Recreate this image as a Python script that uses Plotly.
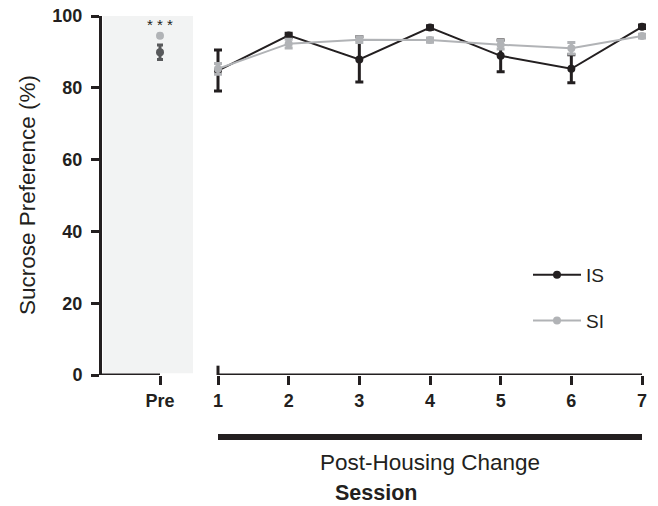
import plotly.graph_objects as go

W, H = 658, 506
FONT = "Arial, Liberation Sans, sans-serif"
INK = "#231f20"
GRAY = "#b1b3b6"
DARKGRAY = "#58595b"

# ---- data ----
sessions = [1, 2, 3, 4, 5, 6, 7]
session_labels = ["1", "2", "3", "4", "5", "6", "7"]
is_mean = [84.8, 94.6, 87.9, 96.8, 88.9, 85.3, 97.0]
is_sem = [5.7, 0.6, 6.3, 0.5, 4.4, 3.9, 0.5]
si_mean = [85.3, 92.3, 93.4, 93.3, 92.0, 91.0, 94.4]
si_sem = [1.5, 1.2, 0.8, 0.6, 1.2, 1.6, 0.5]

pre_label = ["Pre"]
pre_is_mean = [89.9]
pre_is_sem = [2.0]
pre_si_mean = [94.5]
pre_si_sem = [0.4]
pre_stars = "* * *"

y_ticks = [0, 20, 40, 60, 80, 100]


def px(x):
    return x / W


def py(y):
    return 1 - y / H


fig = go.Figure()

# Pre panel
fig.add_trace(go.Scatter(
    x=[0], y=pre_is_mean, mode="markers", xaxis="x", yaxis="y",
    marker=dict(color=DARKGRAY, size=8),
    error_y=dict(type="data", array=pre_is_sem, color=DARKGRAY, thickness=3, width=3),
    showlegend=False, cliponaxis=False))
fig.add_trace(go.Scatter(
    x=[0], y=pre_si_mean, mode="markers", xaxis="x", yaxis="y",
    marker=dict(color=GRAY, size=8),
    error_y=dict(type="data", array=pre_si_sem, color=GRAY, thickness=3, width=3),
    showlegend=False, cliponaxis=False))

# Session panel
fig.add_trace(go.Scatter(
    x=sessions, y=is_mean, mode="lines+markers", name="IS", xaxis="x2", yaxis="y",
    line=dict(color=INK, width=2), marker=dict(color=INK, size=8),
    error_y=dict(type="data", array=is_sem, color=INK, thickness=3, width=4),
    legendgroup="IS", cliponaxis=False))
fig.add_trace(go.Scatter(
    x=sessions, y=si_mean, mode="lines+markers", name="SI", xaxis="x2", yaxis="y",
    line=dict(color=GRAY, width=2), marker=dict(color=GRAY, size=8),
    error_y=dict(type="data", array=si_sem, color=GRAY, thickness=3, width=4),
    legendgroup="SI", cliponaxis=False))

axis_common = dict(showgrid=False, zeroline=False, linecolor=INK,
                   linewidth=3, ticks="outside", tickcolor=INK, tickwidth=3, ticklen=9,
                   automargin=False,
                   tickfont=dict(family=FONT, size=18, color=INK, weight="bold"))

PAD = 0.1  # small padding so error-bar caps at the edges are not clipped

fig.update_layout(
    template="none",
    width=W, height=H,
    margin=dict(l=0, r=0, t=0, b=0, pad=0),
    paper_bgcolor="white", plot_bgcolor="rgba(0,0,0,0)",
    font=dict(family=FONT, color=INK),
    xaxis=dict(domain=[px(102), px(160 + 58 * PAD)], range=[-1, PAD], tickvals=[0],
               ticktext=pre_label, anchor="y", showline=False, **axis_common),
    xaxis2=dict(domain=[px(218 - 70.67 * PAD), px(642 + 70.67 * PAD)],
                range=[1 - PAD, 7 + PAD], tickvals=sessions,
                ticktext=session_labels, anchor="y", showline=False, **axis_common),
    yaxis=dict(domain=[py(375), py(16)], range=[0, 100], tickvals=y_ticks,
               anchor="x", ticklabelstandoff=5, showline=True,
               **{**axis_common, "ticklen": 8}),
    legend=dict(x=px(528), y=py(256), xanchor="left", yanchor="top",
                font=dict(family=FONT, size=19, color=INK), itemwidth=48,
                tracegroupgap=18, bgcolor="rgba(0,0,0,0)"),
    shapes=[
        # shaded pre background
        dict(type="rect", xref="paper", yref="y", x0=px(103), x1=px(193), y0=0.5, y1=100,
             fillcolor="#f2f3f3", line=dict(width=0), layer="below"),
        # pre x-axis line (ends at the Pre tick)
        dict(type="line", xref="x", yref="y", x0=-1, x1=0, y0=0, y1=0,
             line=dict(color=INK, width=3)),
        # session x-axis line
        dict(type="line", xref="x2", yref="y", x0=1, x1=7, y0=0, y1=0,
             line=dict(color=INK, width=3)),
        # upward tick at session 1
        dict(type="line", xref="x2", yref="y", x0=1, x1=1, y0=0, y1=2.6,
             line=dict(color=INK, width=3)),
        # post-housing bar
        dict(type="line", xref="x2", yref="paper", x0=1, x1=7, y0=py(437), y1=py(437),
             line=dict(color=INK, width=6)),
    ],
    annotations=[
        dict(text=pre_stars, x=0, y=97.5, xref="x", yref="y", showarrow=False,
             font=dict(family=FONT, size=15, color=INK), xanchor="center", yanchor="middle"),
        dict(text="Sucrose Preference (%)", x=px(27), y=py(195), xref="paper", yref="paper",
             textangle=-90, showarrow=False, xanchor="center", yanchor="middle",
             font=dict(family=FONT, size=22.5, color=INK)),
        dict(text="Post-Housing Change", x=px(430), y=py(462), xref="paper", yref="paper",
             showarrow=False, xanchor="center", yanchor="middle",
             font=dict(family=FONT, size=22.5, color=INK)),
        dict(text="<b>Session</b>", x=px(376), y=py(493), xref="paper", yref="paper",
             showarrow=False, xanchor="center", yanchor="middle",
             font=dict(family=FONT, size=21.5, color=INK)),
    ],
)

fig.write_html("out.html", config={"displayModeBar": False},
               post_script="document.body.style.margin='0';document.body.style.overflow='hidden';")
